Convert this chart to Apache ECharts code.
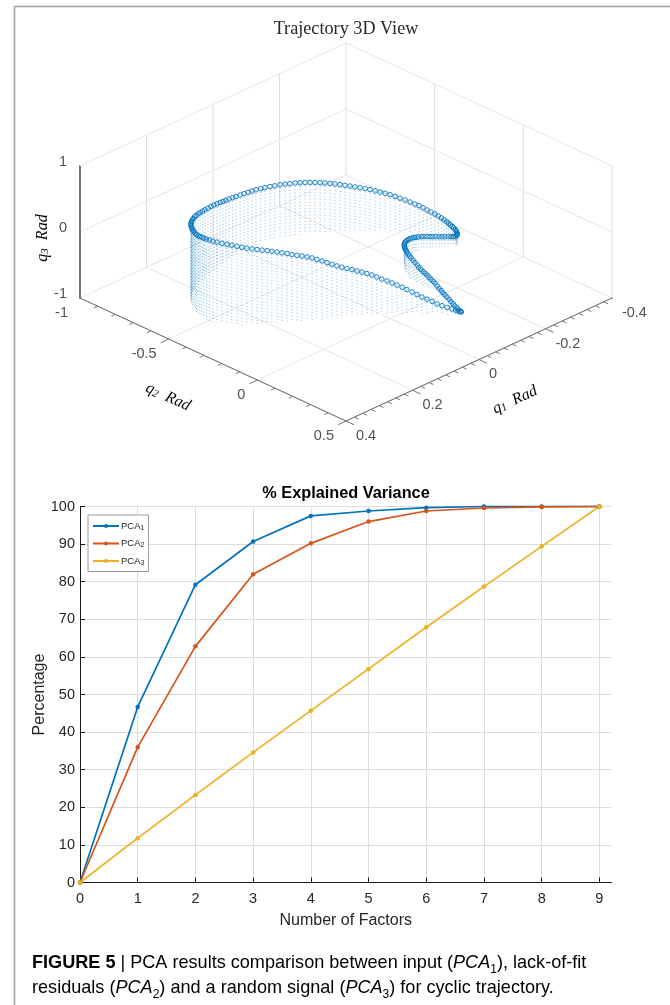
<!DOCTYPE html>
<html>
<head>
<meta charset="utf-8">
<style>html,body{margin:0;padding:0;background:#fff}#c{width:670px;height:1005px}</style>
<script src="https://cdn.jsdelivr.net/npm/echarts@6/dist/echarts.min.js"></script>
</head>
<body>
<div id="c"></div>
<script>
// ---- Data: % explained variance
const factors = [0,1,2,3,4,5,6,7,8,9];
const pca1 = [0,46.7,79.2,90.7,97.5,98.8,99.7,100,100,100];
const pca2 = [0,36,62.8,82,90.2,96,98.8,99.6,99.9,100];
const pca3 = [0,11.8,23.3,34.6,45.7,56.8,67.9,78.7,89.4,100];
const percentTicks = [0,10,20,30,40,50,60,70,80,90,100];

// ---- Data: cyclic trajectory, read from the 3D view
const q1 = [-.119,-.117,-.114,-.111,-.106,-.099,-.092,-.085,-.078,-.070,-.063,-.056,-.049,-.041,-.034,-.026,-.018,-.010,-.001,.007,.015,.024,.033,.042,.050,.060,.069,.078,.087,.096,.105,.115,.123,.132,.141,.150,.159,.167,.176,.185,.194,.202,.211,.219,.227,.235,.243,.250,.257,.263,.269,.274,.278,.280,.280,.279,.277,.275,.273,.270,.267,.264,.259,.256,.252,.246,.240,.233,.226,.216,.207,.198,.190,.180,.169,.157,.147,.133,.122,.111,.098,.085,.073,.062,.050,.037,.025,.011,-.002,-.014,-.026,-.037,-.049,-.060,-.072,-.083,-.095,-.106,-.116,-.127,-.137,-.147,-.156,-.165,-.174,-.182,-.191,-.199,-.207,-.215,-.223,-.231,-.239,-.247,-.254,-.262,-.269,-.276,-.283,-.290,-.296,-.303,-.309,-.315,-.320,-.324,-.328,-.332,-.336,-.339,-.342,-.344,-.346,-.347,-.347,-.348,-.347,-.347,-.346,-.344,-.342,-.340,-.337,-.334,-.330,-.326,-.321,-.315,-.310,-.305,-.299,-.293,-.288,-.282,-.276,-.270,-.264,-.258,-.252,-.246,-.238,-.230,-.222,-.213,-.205,-.198,-.192,-.186,-.180,-.175,-.170,-.167,-.164,-.162,-.161,-.159,-.159,-.158,-.158,-.158,-.158,-.158,-.157,-.157,-.157,-.157,-.155,-.153,-.151,-.149,-.147,-.145,-.142,-.138,-.135,-.131,-.128,-.124,-.122];
const q2 = [.178,.174,.168,.160,.149,.135,.119,.104,.090,.075,.060,.045,.031,.016,.003,-.011,-.024,-.037,-.050,-.063,-.076,-.087,-.098,-.109,-.122,-.133,-.144,-.155,-.166,-.177,-.188,-.199,-.211,-.222,-.234,-.245,-.257,-.269,-.281,-.292,-.304,-.316,-.328,-.341,-.354,-.368,-.382,-.396,-.412,-.428,-.445,-.464,-.479,-.495,-.512,-.528,-.543,-.558,-.572,-.586,-.599,-.612,-.627,-.638,-.649,-.662,-.675,-.687,-.698,-.711,-.723,-.732,-.740,-.747,-.756,-.764,-.770,-.779,-.783,-.787,-.794,-.800,-.807,-.811,-.816,-.820,-.824,-.826,-.828,-.829,-.829,-.827,-.823,-.820,-.814,-.807,-.800,-.792,-.784,-.775,-.766,-.756,-.745,-.734,-.722,-.710,-.698,-.685,-.672,-.659,-.646,-.633,-.619,-.605,-.591,-.577,-.562,-.547,-.532,-.517,-.501,-.485,-.468,-.452,-.438,-.423,-.408,-.393,-.378,-.365,-.353,-.342,-.331,-.322,-.312,-.303,-.294,-.285,-.278,-.271,-.265,-.260,-.257,-.258,-.263,-.269,-.276,-.283,-.290,-.297,-.304,-.310,-.316,-.322,-.328,-.332,-.337,-.339,-.339,-.338,-.335,-.330,-.323,-.314,-.304,-.293,-.281,-.268,-.254,-.240,-.226,-.212,-.199,-.187,-.173,-.159,-.147,-.136,-.124,-.112,-.101,-.089,-.077,-.065,-.053,-.042,-.027,-.012,.003,.017,.032,.047,.065,.083,.101,.118,.136,.154,.167];
const q3 = [-.958,-.952,-.944,-.933,-.917,-.895,-.873,-.848,-.812,-.776,-.747,-.711,-.674,-.636,-.602,-.568,-.533,-.5,-.467,-.433,-.4,-.371,-.341,-.318,-.295,-.268,-.241,-.215,-.182,-.150,-.117,-.086,-.058,-.036,-.015,.002,.020,.039,.055,.076,.092,.106,.120,.132,.142,.156,.171,.185,.197,.205,.212,.218,.224,.227,.220,.212,.202,.189,.180,.174,.170,.167,.159,.159,.159,.152,.144,.136,.129,.114,.098,.091,.083,.076,.058,.042,.033,.012,.008,0,-.020,-.038,-.059,-.071,-.086,-.102,-.118,-.129,-.142,-.152,-.159,-.164,-.170,-.176,-.180,-.185,-.189,-.195,-.202,-.206,-.214,-.221,-.229,-.235,-.244,-.253,-.265,-.276,-.289,-.303,-.315,-.332,-.345,-.359,-.373,-.394,-.408,-.426,-.445,-.468,-.489,-.512,-.536,-.561,-.580,-.603,-.627,-.648,-.670,-.691,-.712,-.733,-.752,-.767,-.780,-.792,-.803,-.811,-.820,-.827,-.835,-.841,-.847,-.852,-.855,-.855,-.852,-.848,-.845,-.841,-.835,-.829,-.823,-.817,-.811,-.803,-.798,-.791,-.780,-.773,-.761,-.750,-.735,-.723,-.712,-.705,-.697,-.689,-.682,-.674,-.670,-.674,-.682,-.692,-.708,-.721,-.742,-.761,-.777,-.795,-.808,-.823,-.838,-.853,-.868,-.883,-.902,-.914,-.924,-.935,-.944,-.955,-.959,-.962,-.965,-.967,-.967,-.967,-.967];

// ---- Data: 3D view axis ticks
const q1Ticks = [0.4,0.2,0,-0.2,-0.4];
const q2Ticks = [-1,-0.5,0,0.5];
const q3Ticks = [-1,0,1];

const BLUE='#0072BD', RED='#D95319', YEL='#EDB120', TXT='#262626';
const SANS='"Liberation Sans",Arial,sans-serif', SERIF='"Liberation Serif",serif';

// Oblique view of the three axes: maps (q1,q2,q3) onto the hidden view axes
const Q1MAX=0.4, Q1MIN=-0.4, Q2MIN=-1, Q2MAX=0.5, Q3MIN=-1;
function view(a,b,c){
  const s=-a/0.8, t=b/1.5;
  return [s+t, s-t+c*66/123];
}
const uExtent=[view(Q1MAX,Q2MIN,0)[0], view(Q1MIN,Q2MAX,0)[0]];
const vExtent=[view(Q1MAX,Q2MAX,-1)[1], view(Q1MIN,Q2MIN,1)[1]];

const series=[];
function seg(p,r,color,width,z){
  series.push({type:'line',xAxisIndex:1,yAxisIndex:1,data:[p,r],showSymbol:false,symbol:'none',silent:true,clip:false,
    lineStyle:{color:color,width:width},z:z,animation:false});
}
// Walls and floor grid
const GRIDC='#e6e6e6', VERTC='#dedede';
q1Ticks.forEach(a=>{
  seg(view(a,Q2MIN,-1),view(a,Q2MAX,-1),GRIDC,1,1);
  if(a!==Q1MAX) seg(view(a,Q2MIN,-1),view(a,Q2MIN,1),VERTC,1,1);
});
q2Ticks.forEach(b=>{
  seg(view(Q1MAX,b,-1),view(Q1MIN,b,-1),GRIDC,1,1);
  if(b!==Q2MIN) seg(view(Q1MIN,b,-1),view(Q1MIN,b,1),VERTC,1,1);
});
q3Ticks.filter(c=>c>-1).forEach(c=>{
  seg(view(Q1MAX,Q2MIN,c),view(Q1MIN,Q2MIN,c),GRIDC,1,1);
  seg(view(Q1MIN,Q2MIN,c),view(Q1MIN,Q2MAX,c),GRIDC,1,1);
});
// Axes and ticks
seg(view(Q1MAX,Q2MIN,-1),view(Q1MAX,Q2MIN,1),'#1a1a1a',1.2,5);
seg(view(Q1MAX,Q2MIN,-1),view(Q1MAX,Q2MAX,-1),'#666',1,5);
seg(view(Q1MAX,Q2MAX,-1),view(Q1MIN,Q2MAX,-1),'#666',1,5);
for(let i=0;i<=20;i++){const c=-1+i*0.1;const m=i%10===0;
  seg(view(Q1MAX,Q2MIN,c),view(Q1MAX,Q2MIN-(m?0.04:0.022),c),'#777',1,5);}
for(let i=0;i<=15;i++){const b=-1+i*0.1;const m=i%5===0;
  seg(view(Q1MAX,b,-1),view(Q1MAX+(m?0.024:0.012),b,-1),'#777',1,5);}
for(let i=0;i<=32;i++){const a=0.4-i*0.025;const m=i%8===0;
  seg(view(a,Q2MAX,-1),view(a,Q2MAX+(m?0.045:0.024),-1),'#777',1,5);}
// Tick labels
function tickLabels(points,align,dx,dy){
  series.push({type:'scatter',xAxisIndex:1,yAxisIndex:1,symbolSize:0.1,clip:false,silent:true,z:6,animation:false,
    itemStyle:{color:'rgba(0,0,0,0)'},
    data:points.map(p=>({value:p.at,label:{show:true,formatter:String(p.text),position:[dx,dy],align:align,verticalAlign:'middle',
      color:TXT,fontFamily:SANS,fontSize:14.5}}))});
}
tickLabels(q3Ticks.map(c=>({at:view(Q1MAX,Q2MIN,c),text:c})),'right',-13,-3.5);
tickLabels(q2Ticks.map(b=>({at:view(Q1MAX,b,-1),text:b})),'right',-12,15.5);
tickLabels(q1Ticks.map(a=>({at:view(a,Q2MAX,-1),text:a})),'left',10,15);
// Stems to the floor
series.push({type:'custom',xAxisIndex:1,yAxisIndex:1,silent:true,z:3,animation:false,
  data:q1.map((a,i)=>{const top=view(a,q2[i],q3[i]),fl=view(a,q2[i],Q3MIN);return [top[0],top[1],fl[1]];}),
  encode:{x:0,y:[1,2]},
  renderItem:function(p,api){
    const s=api.coord([api.value(0),api.value(1)]), e=api.coord([api.value(0),api.value(2)]);
    return {type:'line',shape:{x1:s[0],y1:s[1],x2:e[0],y2:e[1]},
      style:{stroke:BLUE,lineWidth:0.9,lineDash:[1,2.2],opacity:0.55}};
  }});
// Trajectory circles
series.push({type:'scatter',name:'trajectory',xAxisIndex:1,yAxisIndex:1,clip:false,silent:true,z:4,animation:false,
  symbol:'circle',symbolSize:4.6,
  itemStyle:{color:'rgba(255,255,255,0)',borderColor:BLUE,borderWidth:1,opacity:0.9},
  data:q1.map((a,i)=>view(a,q2[i],q3[i]))});
// Explained variance lines
[['PCA1',pca1,BLUE],['PCA2',pca2,RED],['PCA3',pca3,YEL]].forEach(d=>{
  series.push({type:'line',name:d[0],xAxisIndex:0,yAxisIndex:0,data:factors.map((f,i)=>[f,d[1][i]]),
    symbol:'circle',symbolSize:4.5,showSymbol:true,clip:false,z:10,animation:false,
    lineStyle:{color:d[2],width:1.7},itemStyle:{color:d[2]}});
});

const subStyle={fontFamily:SERIF,fontStyle:'italic',fontSize:11,verticalAlign:'bottom',lineHeight:15};
const qRich={i:{fontFamily:SERIF,fontStyle:'italic',fontSize:16,color:'#333'},s:Object.assign({color:'#333'},subStyle)};
const capFont={fontFamily:SANS,fontSize:18.1,color:'#231f20',lineHeight:25};
const capSub={fontFamily:SANS,fontSize:12,color:'#231f20',verticalAlign:'bottom',lineHeight:21};

const option={
  backgroundColor:'#fff',
  animation:false,
  title:[
    {text:'Trajectory 3D View',left:341,top:15,textAlign:'center',textStyle:{fontFamily:SERIF,fontWeight:'normal',fontSize:18.2,color:TXT}},
    {text:'% Explained Variance',left:341,top:481,textAlign:'center',textStyle:{fontFamily:SANS,fontWeight:'bold',fontSize:16.3,color:'#000'}}
  ],
  grid:[
    {left:80,top:506.5,width:531.5,height:376,containLabel:false},
    {left:80,top:43,width:532,height:378,show:false}
  ],
  xAxis:[
    {gridIndex:0,type:'value',min:0,max:9.21,interval:1,
      name:'Number of Factors',nameLocation:'middle',nameGap:30,nameTextStyle:{fontFamily:SANS,fontSize:16,color:TXT},
      axisLine:{show:true,lineStyle:{color:'#1a1a1a',width:1}},
      axisTick:{show:true,inside:true,length:5,customValues:factors,lineStyle:{color:'#1a1a1a'}},
      axisLabel:{customValues:factors,fontFamily:SANS,fontSize:14.5,color:TXT,margin:9},
      splitLine:{show:true,lineStyle:{color:'#dcdcdc',width:1}}},
    {gridIndex:1,type:'value',min:uExtent[0],max:uExtent[1],show:false,splitLine:{show:false}}
  ],
  yAxis:[
    {gridIndex:0,type:'value',min:0,max:100,interval:10,
      name:'Percentage',nameLocation:'middle',nameGap:32,nameMoveOverlap:false,nameTextStyle:{fontFamily:SANS,fontSize:16,color:TXT},
      axisLine:{show:true,lineStyle:{color:'#1a1a1a',width:1}},
      axisTick:{show:true,inside:true,length:5,lineStyle:{color:'#1a1a1a'}},
      axisLabel:{fontFamily:SANS,fontSize:14.5,color:TXT,margin:5},
      splitLine:{show:true,lineStyle:{color:'#dcdcdc',width:1}}},
    {gridIndex:1,type:'value',min:vExtent[0],max:vExtent[1],show:false,splitLine:{show:false}}
  ],
  legend:{
    data:['PCA1','PCA2','PCA3'],orient:'vertical',left:88,top:515,
    itemWidth:26,itemHeight:5,itemGap:7,padding:[6,4,5,4],
    backgroundColor:'#fff',borderColor:'#9a9a9a',borderWidth:1,
    lineStyle:{width:2},
    selectedMode:false,z:20,
    formatter:n=>'{a|PCA}{b|'+n.slice(3)+'}',
    textStyle:{padding:[0,0,0,-3],rich:{a:{fontFamily:SANS,fontSize:9.5,color:TXT},b:{fontFamily:SANS,fontSize:7,color:TXT,verticalAlign:'bottom',lineHeight:11}}}
  },
  graphic:[
    {type:'line',silent:true,z:0,shape:{x1:14.5,y1:6.5,x2:14.5,y2:1005},style:{stroke:'#a3a3a3',lineWidth:1.6}},
    {type:'line',silent:true,z:0,shape:{x1:14,y1:6.5,x2:670,y2:6.5},style:{stroke:'#a3a3a3',lineWidth:1.6}},
    {type:'text',silent:true,x:43,y:238,rotation:Math.PI/2,style:{text:'{i|q}{s|3}{i|  Rad}',rich:qRich,align:'center',verticalAlign:'middle'}},
    {type:'text',silent:true,x:168,y:397,rotation:-0.43,style:{text:'{i|q}{s|2}{i|  Rad}',rich:qRich,align:'center',verticalAlign:'middle'}},
    {type:'text',silent:true,x:515,y:400,rotation:0.43,style:{text:'{i|q}{s|1}{i|  Rad}',rich:qRich,align:'center',verticalAlign:'middle'}},
    {type:'text',silent:true,x:32,y:950.5,style:{
      text:'{b|FIGURE 5}{n| | PCA results comparison between input (}{i|PCA}{s|1}{n|), lack-of-fit}\n{n|residuals (}{i|PCA}{s|2}{n|) and a random signal (}{i|PCA}{s|3}{n|) for cyclic trajectory.}',
      rich:{b:Object.assign({},capFont,{fontWeight:'bold'}),n:capFont,i:Object.assign({},capFont,{fontStyle:'italic'}),s:capSub}
    }}
  ],
  series:series
};
const chart=echarts.init(document.getElementById('c'),null,{renderer:'canvas'});
chart.setOption(option);
</script>
</body>
</html>
